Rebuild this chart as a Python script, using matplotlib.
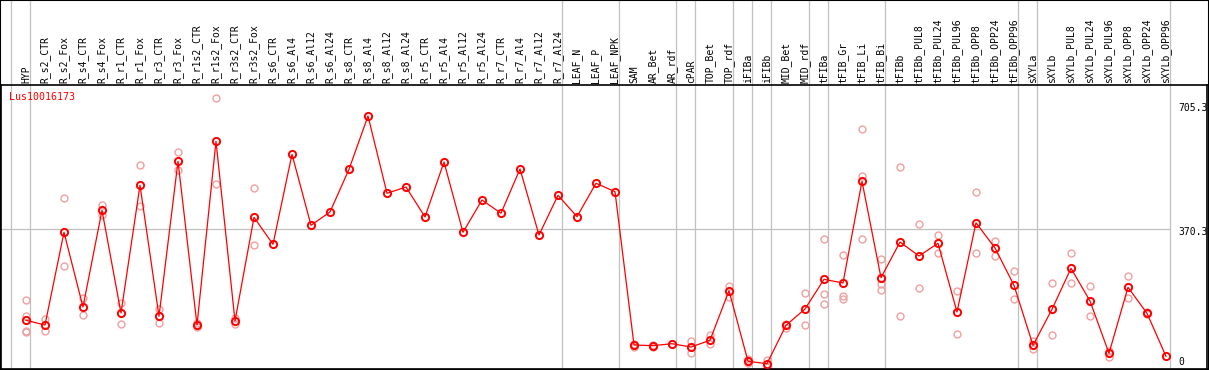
import numpy as np
import matplotlib
matplotlib.use("Agg")
import matplotlib.pyplot as plt
from matplotlib.patches import Rectangle
from matplotlib.transforms import offset_copy

# sample names along the x axis
samples = ["HYP", "R_s2_CTR", "R_s2_Fox", "R_s4_CTR", "R_s4_Fox", "R_r1_CTR", "R_r1_Fox",
           "R_r3_CTR", "R_r3_Fox", "R_r1s2_CTR", "R_r1s2_Fox", "R_r3s2_CTR", "R_r3s2_Fox",
           "R_s6_CTR", "R_s6_Al4", "R_s6_Al12", "R_s6_Al24", "R_s8_CTR", "R_s8_Al4",
           "R_s8_Al12", "R_s8_Al24", "R_r5_CTR", "R_r5_Al4", "R_r5_Al12", "R_r5_Al24",
           "R_r7_CTR", "R_r7_Al4", "R_r7_Al12", "R_r7_Al24", "LEAF_N", "LEAF_P", "LEAF_NPK",
           "SAM", "AR_Bet", "AR_rdf", "cPAR", "TOP_Bet", "TOP_rdf", "iFIBa", "iFIBb",
           "MID_Bet", "MID_rdf", "tFIBa", "tFIB_Gr", "tFIB_Li", "tFIB_Bi", "tFIBb",
           "tFIBb_PUL8", "tFIBb_PUL24", "tFIBb_PUL96", "tFIBb_OPP8", "tFIBb_OPP24",
           "tFIBb_OPP96", "sXYLa", "sXYLb", "sXYLb_PUL8", "sXYLb_PUL24", "sXYLb_PUL96",
           "sXYLb_OPP8", "sXYLb_OPP24", "sXYLb_OPP96"]

# mean expression per sample
means = [134.5, 122.4, 360.8, 168.7, 417.3, 153.3, 481.6, 144.8, 543.3, 122.4, 594.7,
         132.7, 399.3, 329.9, 561.3, 378.8, 413.0, 522.8, 659.8, 461.1, 477.2, 400.2,
         541.5, 360.8, 443.8, 409.7, 523.6, 353.8, 455.9, 401.0, 486.8, 465.2,
         71.0, 69.2, 74.3, 65.8, 83.1, 210.6, 29.1, 22.9, 121.6, 163.5, 239.9, 230.4,
         491.9, 244.0, 335.8, 299.8, 332.5, 155.8, 385.2, 320.4, 224.5, 70.2, 162.8,
         268.2, 184.1, 49.6, 219.3, 152.5, 41.9]

# individual replicates (empty where none are visible)
replicates = [
    [185.9, 146.3, 107.0, 104.1], [137.8, 107.0], [448.2, 274.1], [192.6, 147.3],
    [431.7, 404.5], [179.0, 124.2], [533.8, 427.6], [163.5, 127.5], [566.5, 520.2],
    [126.8, 118.0], [705.3, 484.2], [139.6, 124.2], [473.9, 327.3],
    [], [], [], [], [], [], [], [], [], [], [], [], [], [], [], [], [], [], [],
    [74.0, 67.0], [71.0, 67.0], [], [81.3, 49.6], [97.5, 72.8], [222.7, 195.2],
    [35.0, 24.7], [31.6, 15.2], [115.5, 126.0], [203.9, 121.6],
    [342.8, 201.3, 175.6], [301.6, 196.2, 188.5], [626.4, 506.3, 343.5],
    [291.3, 227.8, 212.4], [529.4, 144.8], [381.3, 216.8], [353.8, 308.3],
    [209.0, 98.5], [463.6, 306.8], [338.4, 299.1], [260.5, 190.0], [82.0, 61.5],
    [230.4, 95.9], [306.8, 230.4], [222.7, 145.5], [56.3, 40.9], [247.6, 191.0],
    [155.8, 150.7], [],
]

# group dividers are drawn right after these samples
dividers_after = ["HYP", "R_r7_Al24", "LEAF_NPK", "AR_rdf", "cPAR", "TOP_rdf", "iFIBa",
                  "iFIBb", "MID_rdf", "tFIBa", "tFIB_Bi", "tFIBb_OPP96", "sXYLa",
                  "sXYLb_OPP96"]

gene = "Lus10016173"
scale_labels = ["705.3", "370.3", "0"]
mid_value = 370.3

W, H = 1209, 370
fig = plt.figure(figsize=(W / 100, H / 100), dpi=100)
ax = fig.add_axes([1 / W, 1 / H, 1206 / W, 284 / H])

x = np.arange(len(samples))
ax.set_xlim((1 - 26) / 19, (1207 - 26) / 19)
ax.set_ylim((372.6 - 369) * 2.5714, (372.6 - 85) * 2.5714)
ax.set_xticks([])
ax.set_yticks([])
for s in ax.spines.values():
    s.set_linewidth(1.2)
    s.set_color("black")

# vertical dividers run through the header too
top_frac = 369 / 284
div_pos = [-1 + 0.22] + [samples.index(n) + 0.22 for n in dividers_after]
for p in div_pos:
    ax.axvline(p, 0, top_frac, color="#c0c0c0", lw=0.9, clip_on=False, zorder=0)

# middle reference line
ax.hlines(mid_value, ax.get_xlim()[0], div_pos[-1], color="#c0c0c0", lw=0.9, zorder=0)

# replicates
for i, reps in enumerate(replicates):
    if reps:
        ax.plot([i] * len(reps), reps, linestyle="none", marker="o", ms=5,
                mfc="none", mec="#eea0a0", mew=1.0, zorder=2)

# means
ax.plot(x, means, color="red", lw=0.9, marker="o", ms=5.2, mfc="none",
        mec="red", mew=1.4, zorder=3)

# header labels
mono = "DejaVu Sans Mono"
lbl_tr = offset_copy(ax.get_xaxis_transform(), fig=fig, x=0, y=1.5, units="points")
for i, name in enumerate(samples):
    ax.text(i, 1.0, name, rotation=90, ha="center", va="bottom", fontsize=7,
            family=mono, transform=lbl_tr, clip_on=False)

# gene name
fig.text(9.5 / W, 1 - 97.5 / H, gene, color="red", fontsize=7.2, family=mono,
         ha="left", va="center")

# scale labels on the right
lx = (1178 - 26) / 19
ax.text(lx, 1 - (107.7 - 85) / 284, scale_labels[0], transform=ax.get_xaxis_transform(),
        fontsize=7, family=mono, ha="left", va="center")
ax.text(lx, 1 - (232.3 - 85) / 284, scale_labels[1], transform=ax.get_xaxis_transform(),
        fontsize=7, family=mono, ha="left", va="center")
ax.text(lx, 1 - (361.7 - 85) / 284, scale_labels[2], transform=ax.get_xaxis_transform(),
        fontsize=7, family=mono, ha="left", va="center")

# outer border
fig.patches.append(Rectangle((0, 0), 1, 1, transform=fig.transFigure, fill=False,
                             edgecolor="black", lw=1.5, figure=fig))

fig.savefig("out.png", dpi=100)
